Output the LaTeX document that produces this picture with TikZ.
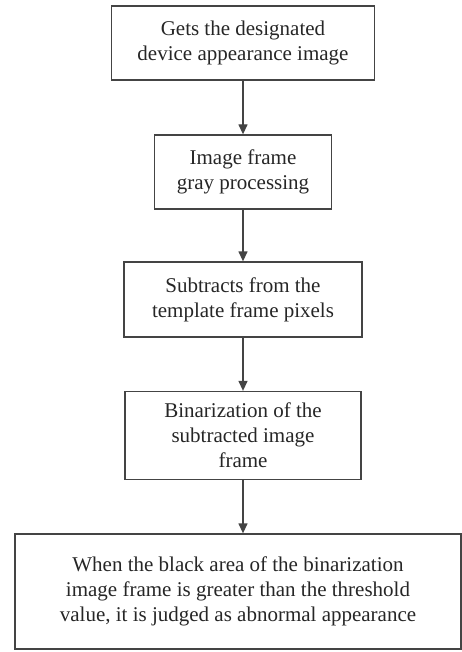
\documentclass[tikz,border=0pt]{standalone}
\usepackage{fontspec}
\setmainfont{Liberation Serif}
\usetikzlibrary{arrows.meta}
\definecolor{linec}{HTML}{444444}
\definecolor{textc}{HTML}{262626}
\begin{document}
\begin{tikzpicture}[x=1pt,y=1pt,
  flowbox/.style={draw=linec, line width=1.3pt, align=center, inner sep=0pt,
    text=textc, font=\rmfamily\fontsize{21}{24.8}\selectfont},
  flowarrow/.style={draw=linec, line width=1.3pt, -{Triangle[length=10pt,width=9pt]}}]
\useasboundingbox (0,0) rectangle (462,-652);
\node[flowbox, minimum width=263pt, minimum height=74pt] (b1) at (243,-43)
  {Gets the designated\\device appearance image};
\node[flowbox, minimum width=177pt, minimum height=74pt] (b2) at (243,-172)
  {Image frame\\gray processing};
\node[flowbox, minimum width=238pt, minimum height=75pt] (b3) at (243,-299.5)
  {Subtracts from the\\template frame pixels};
\node[flowbox, minimum width=236pt, minimum height=88pt] (b4) at (243,-435.5)
  {Binarization of the\\subtracted image\\frame};
\node[flowbox, minimum width=446pt, minimum height=115pt] (b5) at (238,-591.5)
  {When the black area of the binarization\\image frame is greater than the threshold\\value, it is judged as abnormal appearance};
\draw[flowarrow] (b1.south) -- (b2.north);
\draw[flowarrow] (b2.south) -- (b3.north);
\draw[flowarrow] (b3.south) -- (b4.north);
\draw[flowarrow] (b4.south) -- (b4.south |- b5.north);
\end{tikzpicture}
\end{document}
